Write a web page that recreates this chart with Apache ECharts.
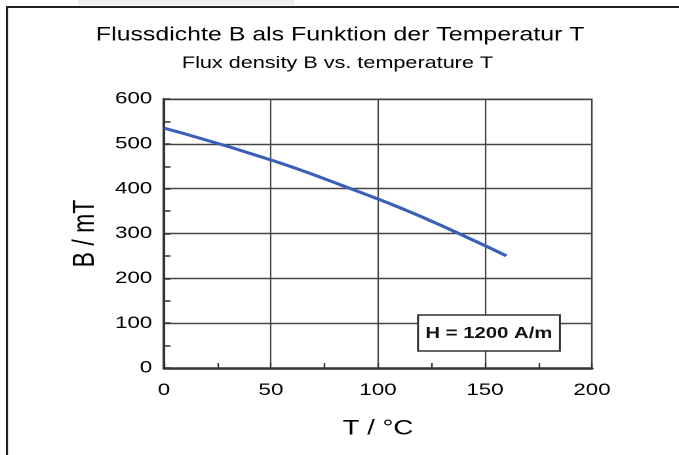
<!DOCTYPE html>
<html><head><meta charset="utf-8">
<script src="https://cdn.jsdelivr.net/npm/echarts@6/dist/echarts.min.js"></script>
<style>
html,body{margin:0;padding:0;background:#fff;overflow:hidden}
#wrap{width:679px;height:455px;overflow:hidden}
#c{width:518px;height:455px;transform:scaleX(1.3108);transform-origin:0 0}
</style>
</head><body><div id="wrap"><div id="c"></div></div>
<script>
const temperature = [0, 10, 20, 30, 40, 50, 60, 70, 80, 90, 100, 110, 120, 130, 140, 150, 160];
const fluxDensity = [535, 522, 508, 494, 479, 464, 448, 431, 413, 395, 377, 358, 338, 317, 295, 273, 250];
const titleDe = 'Flussdichte B als Funktion der Temperatur T';
const titleEn = 'Flux density B vs. temperature T';
const xName = 'T / °C';
const yName = 'B / mT';
const note = 'H = 1200 A/m';

const font = 'Liberation Sans, Arial, sans-serif';
const chart = echarts.init(document.getElementById('c'), null, {devicePixelRatio: 2});
chart.setOption({
  animation: false,
  backgroundColor: '#fff',
  title: [
    {text: titleDe, left: 254.5, top: 21, textAlign: 'center',
     textStyle: {fontFamily: font, fontSize: 19, fontWeight: 'normal', color: '#000'}},
    {text: titleEn, left: 252.5, top: 50, textAlign: 'center',
     textStyle: {fontFamily: font, fontSize: 16.5, fontWeight: 'normal', color: '#000'}}
  ],
  grid: {left: 125.1, top: 99, right: 66.4, bottom: 87, show: true, borderColor: '#555', borderWidth: 1},
  xAxis: {
    type: 'value', min: 0, max: 200, interval: 50,
    name: xName, nameLocation: 'middle', nameGap: 50,
    nameTextStyle: {fontFamily: font, fontSize: 21, color: '#000'},
    axisLine: {show: true, lineStyle: {color: '#333', width: 2.5}},
    axisTick: {show: true, inside: true, length: 5, lineStyle: {color: '#333', width: 1.2}},
    minorTick: {show: true, splitNumber: 2, length: 5, lineStyle: {color: '#333', width: 1.2}},
    axisLabel: {fontFamily: font, fontSize: 17, color: '#000', margin: 14},
    splitLine: {show: true, lineStyle: {color: '#444', width: 1.1}}
  },
  yAxis: {
    type: 'value', min: 0, max: 600, interval: 100,
    name: yName, nameLocation: 'middle', nameGap: 47, nameRotate: 90,
    nameTextStyle: {fontFamily: font, fontSize: 23, color: '#000'},
    axisLine: {show: true, lineStyle: {color: '#333', width: 2}},
    axisTick: {show: true, inside: true, length: 5, lineStyle: {color: '#333', width: 1.5}},
    minorTick: {show: true, splitNumber: 2, length: 5, lineStyle: {color: '#333', width: 1.5}},
    axisLabel: {fontFamily: font, fontSize: 17, color: '#000', margin: 9},
    splitLine: {show: true, lineStyle: {color: '#444', width: 1.4}}
  },
  series: [{
    type: 'line', smooth: 0.2, showSymbol: false,
    data: temperature.map((t, i) => [t, fluxDensity[i]]),
    lineStyle: {color: '#3a5fb8', width: 3}
  }],
  graphic: [
    {type: 'rect', shape: {x: 59.5, y: 0, width: 165, height: 5}, style: {fill: '#eeeeee'}, silent: true},
    {type: 'line', shape: {x1: 4.6, y1: 7, x2: 518, y2: 7}, style: {stroke: '#222', lineWidth: 2}},
    {type: 'line', shape: {x1: 5.3, y1: 6, x2: 5.3, y2: 455}, style: {stroke: '#222', lineWidth: 1.6}},
    {type: 'rect', z: 10, shape: {x: 318.9, y: 315, width: 108.3, height: 36},
     style: {fill: '#fff', stroke: '#333', lineWidth: 1.5}},
    {type: 'text', z: 11, x: 373, y: 333.5,
     style: {text: note, fontFamily: font, fontSize: 15.5, fontWeight: 'bold', fill: '#111',
             textAlign: 'center', textVerticalAlign: 'middle'}}
  ]
});
</script>
</body></html>
